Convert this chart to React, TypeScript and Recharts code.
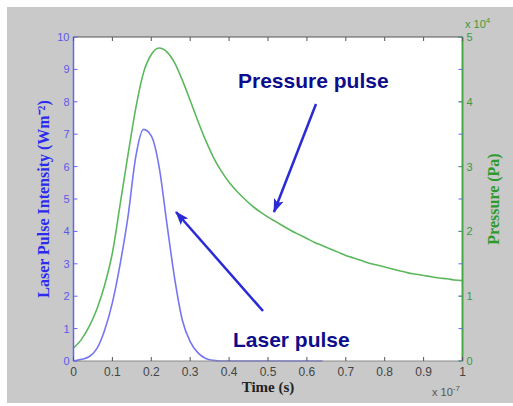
import { LineChart, Line, XAxis, YAxis } from "recharts";

// time axis (x 10^-7 s)
const TIME = [
  0, 0.02, 0.04, 0.06, 0.08, 0.1, 0.12, 0.14, 0.16, 0.18, 0.2, 0.22, 0.24, 0.26, 0.28, 0.3, 0.32,
  0.34, 0.36, 0.38, 0.4, 0.42, 0.44, 0.46, 0.48, 0.5, 0.52, 0.54, 0.56, 0.58, 0.6, 0.62, 0.64,
  0.66, 0.68, 0.7, 0.72, 0.74, 0.76, 0.78, 0.8, 0.82, 0.84, 0.86, 0.88, 0.9, 0.92, 0.94, 0.96,
  0.98, 1,
];

// laser pulse intensity (left axis), stops at 0.64
const LASER = [
  0, 0.05, 0.13, 0.38, 0.95, 1.8, 3.0, 4.45, 6.3, 7.15, 6.95, 6.0, 4.25, 2.55, 1.25, 0.6, 0.25,
  0.08, 0.02, 0, 0, 0, 0, 0, 0, 0, 0, 0, 0, 0, 0, 0, 0,
  null, null, null, null, null, null, null, null, null, null, null, null, null, null, null, null,
  null, null,
];

// pressure pulse (right axis, x 10^4 Pa)
const PRESSURE = [
  0.2, 0.33, 0.53, 0.8, 1.17, 1.67, 2.42, 3.18, 3.9, 4.45, 4.73, 4.83, 4.77, 4.6, 4.33, 4.02, 3.7,
  3.4, 3.14, 2.93, 2.76, 2.62, 2.5, 2.39, 2.3, 2.22, 2.15, 2.08, 2.01, 1.95, 1.89, 1.83, 1.78,
  1.73, 1.68, 1.63, 1.59, 1.55, 1.51, 1.48, 1.45, 1.42, 1.39, 1.36, 1.34, 1.32, 1.3, 1.28, 1.27,
  1.25, 1.24,
];

const X_TICKS = [0, 0.1, 0.2, 0.3, 0.4, 0.5, 0.6, 0.7, 0.8, 0.9, 1];
const LEFT_TICKS = [0, 1, 2, 3, 4, 5, 6, 7, 8, 9, 10];
const RIGHT_TICKS = [0, 1, 2, 3, 4, 5];

const W = 513;
const H = 406;
const PLOT_LEFT = 73.5;
const PLOT_RIGHT = 462.5;
const PLOT_TOP = 37;
const PLOT_BOTTOM = 361;

const BLUE_AXIS = "#6464f5";
const GREEN_AXIS = "#46a846";

const data = TIME.map((t, i) => ({ t, laser: LASER[i], pressure: PRESSURE[i] }));

const LeftTick = (props: any) => {
  const { y, payload } = props;
  return (
    <g>
      <line x1={PLOT_LEFT} x2={PLOT_LEFT + 4} y1={y} y2={y} stroke={BLUE_AXIS} />
      <line x1={PLOT_RIGHT} x2={PLOT_RIGHT - 4} y1={y} y2={y} stroke={BLUE_AXIS} />
      <text x={PLOT_LEFT - 4} y={y} dy={4} textAnchor="end" fontSize={11}
        fontFamily="Liberation Sans, Arial, sans-serif" fill="#5a5ae8">
        {payload.value}
      </text>
    </g>
  );
};

const RightTick = (props: any) => {
  const { y, payload } = props;
  return (
    <g>
      <line x1={PLOT_RIGHT} x2={PLOT_RIGHT - 4} y1={y} y2={y} stroke={GREEN_AXIS} />
      <text x={PLOT_RIGHT + 4} y={y} dy={4} textAnchor="start" fontSize={11}
        fontFamily="Liberation Sans, Arial, sans-serif" fill="#3c9a3c">
        {payload.value}
      </text>
    </g>
  );
};

const BottomTick = (props: any) => {
  const { x, payload } = props;
  return (
    <g>
      <line x1={x} x2={x} y1={PLOT_BOTTOM} y2={PLOT_BOTTOM - 4} stroke="#555" />
      <text x={x} y={PLOT_BOTTOM + 15} textAnchor="middle" fontSize={12}
        fontFamily="Liberation Sans, Arial, sans-serif" fill="#444">
        {payload.value}
      </text>
    </g>
  );
};

const TopTick = (props: any) => {
  const { x } = props;
  return <line x1={x} x2={x} y1={PLOT_TOP} y2={PLOT_TOP + 4} stroke="#555" />;
};

export default function App() {
  return (
    <div style={{ position: "absolute", left: 0, top: 0, width: W, height: H, background: "#fff", overflow: "hidden" }}>
      <div style={{ position: "absolute", left: 7, top: 7, width: W - 7, height: 396, background: "#c9c9c9" }} />
      <div style={{ position: "absolute", left: PLOT_LEFT, top: PLOT_TOP, width: PLOT_RIGHT - PLOT_LEFT, height: PLOT_BOTTOM - PLOT_TOP, background: "#fff" }} />
      <div style={{ position: "absolute", left: 0, top: 0 }}>
        <LineChart width={W} height={H} data={data} margin={{ top: 27, right: 0, bottom: 0, left: 0 }}>
          <XAxis xAxisId="bottom" dataKey="t" type="number" domain={[0, 1]} ticks={X_TICKS}
            height={45} tickLine={false} tickSize={0} axisLine={{ stroke: "#8a8a8a" }}
            tick={<BottomTick />}
            label={{ value: "Time (s)", position: "insideBottom", offset: 14, fontSize: 15, fontWeight: "bold", fontFamily: "Liberation Serif, Times New Roman, serif", fill: "#222" }} />
          <XAxis xAxisId="top" orientation="top" dataKey="t" type="number" domain={[0, 1]} ticks={X_TICKS}
            height={10} tickLine={false} tickSize={0} axisLine={{ stroke: "#555" }} tick={<TopTick />} />
          <YAxis yAxisId="left" domain={[0, 10]} ticks={LEFT_TICKS} width={PLOT_LEFT}
            tickLine={false} tickSize={0} axisLine={{ stroke: BLUE_AXIS, strokeWidth: 1.5 }}
            tick={<LeftTick />}
            label={{ value: "Laser Pulse Intensity (Wm⁻²)", angle: -90, position: "insideLeft", offset: 43, fontSize: 16, fontWeight: "bold", fontFamily: "Liberation Serif, Times New Roman, serif", fill: "#2a2af0", style: { textAnchor: "middle" } }} />
          <YAxis yAxisId="right" orientation="right" domain={[0, 5]} ticks={RIGHT_TICKS} width={W - PLOT_RIGHT}
            tickLine={false} tickSize={0} axisLine={{ stroke: GREEN_AXIS, strokeWidth: 2 }}
            tick={<RightTick />}
            label={{ value: "Pressure (Pa)", angle: -90, position: "insideRight", offset: 20, fontSize: 16, fontWeight: "bold", fontFamily: "Liberation Serif, Times New Roman, serif", fill: "#2e9a2e", style: { textAnchor: "middle" } }} />
          <Line xAxisId="bottom" yAxisId="right" type="monotone" dataKey="pressure" stroke="#5cb85c"
            strokeWidth={1.6} dot={false} isAnimationActive={false} />
          <Line xAxisId="bottom" yAxisId="left" type="monotone" dataKey="laser" stroke="#7676f2"
            strokeWidth={1.6} dot={false} isAnimationActive={false} />
        </LineChart>
      </div>
      <svg width={W} height={H} style={{ position: "absolute", left: 0, top: 0, pointerEvents: "none" }}>
        <defs>
          <marker id="head" markerUnits="userSpaceOnUse" markerWidth={14} markerHeight={10}
            refX={13} refY={5} orient="auto">
            <path d="M0,0 L14,5 L0,10 L3,5 Z" fill="#2a2ad6" />
          </marker>
        </defs>
        <line x1={316} y1={104} x2={274} y2={212} stroke="#2a2ad6" strokeWidth={2.5} markerEnd="url(#head)" />
        <line x1={263} y1={311} x2={176} y2={212} stroke="#2a2ad6" strokeWidth={2.5} markerEnd="url(#head)" />
        <text x={238} y={88} fontSize={21} fontWeight="bold" fontFamily="Liberation Sans, Arial, sans-serif" fill="#0c0c8c">
          Pressure pulse
        </text>
        <text x={233} y={347} fontSize={21} fontWeight="bold" fontFamily="Liberation Sans, Arial, sans-serif" fill="#0c0c8c">
          Laser pulse
        </text>
        <text x={465} y={28} fontSize={11} fontFamily="Liberation Sans, Arial, sans-serif" fill="#3c9a3c">
          x 10<tspan dy={-5} fontSize={8}>4</tspan>
        </text>
        <text x={432} y={396} fontSize={11} fontFamily="Liberation Sans, Arial, sans-serif" fill="#555">
          x 10<tspan dy={-5} fontSize={8}>-7</tspan>
        </text>
      </svg>
    </div>
  );
}
